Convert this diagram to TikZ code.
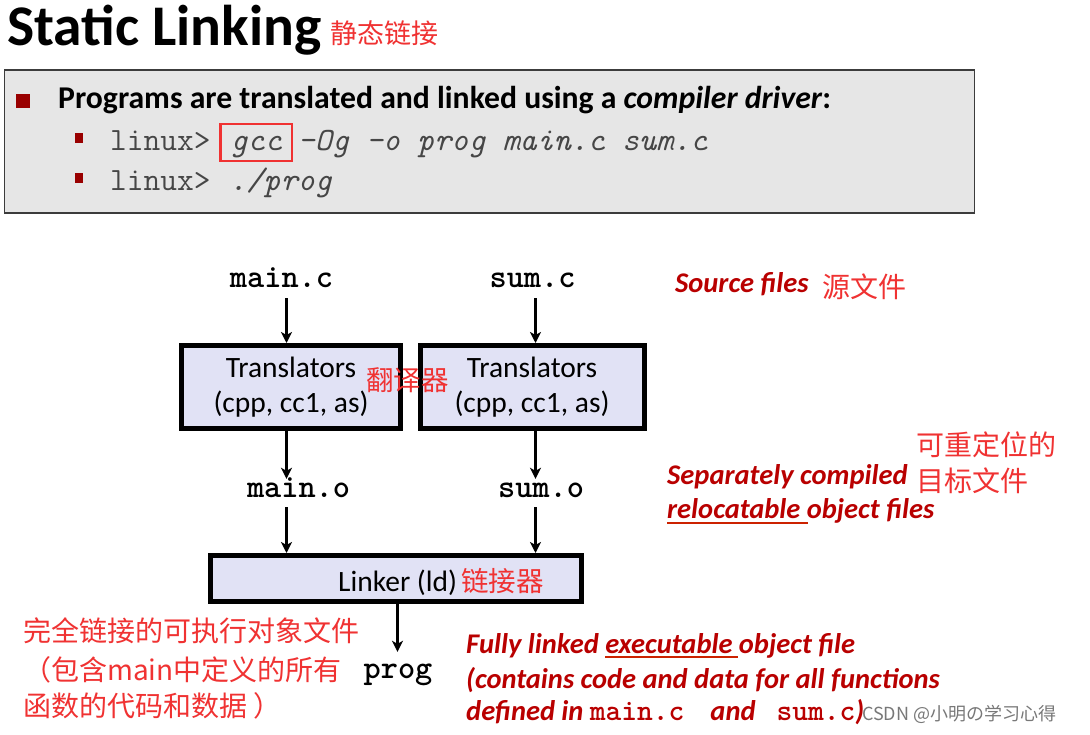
\documentclass[tikz,border=0pt]{standalone}
\usepackage{fontspec}
\setmainfont{Carlito}
\newfontfamily\cjk{Noto Sans CJK SC}
\usetikzlibrary{arrows.meta}
\definecolor{cnred}{RGB}{240,50,50}
\definecolor{enred}{RGB}{185,0,0}
\definecolor{bulletred}{RGB}{153,0,0}
\definecolor{boxfill}{RGB}{225,226,245}
\definecolor{panelfill}{RGB}{230,230,230}
\definecolor{panelline}{RGB}{60,60,60}
\definecolor{codegray}{RGB}{70,70,70}
\definecolor{ulred}{RGB}{204,34,0}
\definecolor{wmgray}{RGB}{120,120,120}
\tikzset{
  cn/.style={anchor=base west, inner sep=0pt, text=cnred, font=\cjk\fontsize{28}{33}\selectfont},
  en/.style={anchor=base west, inner sep=0pt, text=enred, font=\bfseries\itshape\fontsize{28.5}{32}\selectfont},
  file/.style={anchor=base, inner sep=0pt, text height=14pt, text depth=0pt, font=\ttfamily\bfseries\fontsize{32.7}{36}\selectfont},
  code/.style={anchor=base west, inner sep=0pt, text=codegray, font=\ttfamily\fontsize{32.5}{36}\selectfont},
  tbox/.style={draw=black, line width=5pt, fill=boxfill, align=center, inner sep=0pt, font=\fontsize{29.5}{35}\selectfont},
  arr/.style={line width=3pt, -{Stealth[length=11pt,width=11pt,inset=3pt]}},
  sqbullet/.style={fill=bulletred, draw=none, inner sep=0pt},
}
\newcommand{\monobf}[1]{{\ttfamily\bfseries\upshape\fontsize{30}{32}\selectfont #1}}
\begin{document}
\begin{tikzpicture}[x=1pt,y=-1pt]
\useasboundingbox (0,0) rectangle (1090,734);
\fill[white] (0,0) rectangle (1090,734);

% title
\node[anchor=base west, inner sep=0pt, font=\bfseries\fontsize{57.5}{60}\selectfont] (title) at (7,45) {Static Linking};
\node[cn, font=\cjk\fontsize{27}{32}\selectfont] (titlecn) at (330,43) {静态链接};

% gray panel
\node[draw=panelline, fill=panelfill, line width=1.5pt, minimum width=970pt, minimum height=143pt, inner sep=0pt] (panel) at (489.5,141.5) {};
\node[sqbullet, minimum width=14pt, minimum height=14pt] (b1) at (23,101) {};
\node[anchor=base west, inner sep=0pt, font=\bfseries\fontsize{31.7}{36}\selectfont] (line1) at (58,108) {Programs are translated and linked using a \textit{compiler driver}:};
\node[sqbullet, minimum width=8pt, minimum height=10pt] (b2) at (79,138) {};
\node[sqbullet, minimum width=8pt, minimum height=10pt] (b3) at (79,178) {};
\node[code] (l2a) at (110,150) {linux>};
\node[code, font=\ttfamily\itshape\fontsize{32.5}{36}\selectfont, draw=cnred, line width=2.5pt, inner xsep=10pt, inner ysep=6pt, text height=20pt, text depth=5pt] (gcc) at (219.4,150) {gcc};
\node[code, font=\ttfamily\itshape\fontsize{32.5}{36}\selectfont] (l2c) at (297.7,150) {-Og -o prog main.c sum.c};
\node[code] (l3a) at (110,190) {linux>};
\node[code, font=\ttfamily\itshape\fontsize{32.5}{36}\selectfont] (l3b) at (229.4,190) {./prog};

% diagram
\coordinate (colA) at (286.5,0);
\coordinate (colB) at (535.5,0);
\coordinate (colC) at (397.5,0);

\node[file] (mainc) at (281.5,287) {main.c};
\node[file] (sumc) at (532.5,287) {sum.c};
\node[tbox, minimum width=219pt, minimum height=83pt] (box1) at (291,387) {Translators\\(cpp, cc1, as)};
\node[tbox, minimum width=224pt, minimum height=83pt] (box2) at (532,387) {Translators\\(cpp, cc1, as)};
\node[cn, font=\cjk\fontsize{27.5}{32}\selectfont] (trcn) at (366,390) {翻译器};
\node[file] (maino) at (298.5,497) {main.o};
\node[file] (sumo) at (541,497) {sum.o};
\node[tbox, minimum width=371pt, minimum height=46pt] (linker) at (396,578.5) {};
\node[anchor=base west, inner sep=0pt, font=\fontsize{29.5}{32}\selectfont] (linktext) at (338,591) {Linker (ld)};
\node[cn, font=\cjk\fontsize{27.5}{32}\selectfont] (linkcn) at (461,591) {链接器};
\node[file] (prog) at (398,678) {prog};

\draw[arr, shorten <=11pt] (mainc.south -| colA) -- (box1.north -| colA);
\draw[arr, shorten <=11pt] (sumc.south -| colB) -- (box2.north -| colB);
\draw[arr, shorten >=4pt] (box1.south -| colA) -- (maino.north -| colA);
\draw[arr, shorten >=4pt] (box2.south -| colB) -- (sumo.north -| colB);
\draw[arr, shorten <=10pt] (maino.south -| colA) -- (linker.north -| colA);
\draw[arr, shorten <=10pt] (sumo.south -| colB) -- (linker.north -| colB);
\draw[arr, shorten >=12pt] (linker.south -| colC) -- (prog.north -| colC);

% annotations right
\node[en] (src) at (675,292) {Source files};
\node[cn] (srccn) at (822,297) {源文件};
\node[cn] (relcn1) at (916,455) {可重定位的};
\node[cn] (relcn2) at (916,491) {目标文件};
\node[en] (sep1) at (667,484) {Separately compiled};
\node[en] (sep2) at (667,518) {relocatable object files};
\draw[ulred, line width=2pt] (sep2.base west) ++(0,5) -- ++(141,0);

% annotations bottom
\node[cn] (ex1) at (23,641) {完全链接的可执行对象文件};
\node[cn] (ex2) at (23,680) {（包含main中定义的所有};
\node[cn] (ex3) at (23,716) {函数的代码和数据\hspace{6pt}）};
\node[en] (fl1) at (466,653) {Fully linked executable object file};
\draw[ulred, line width=2pt] (fl1.base west) ++(139,4) -- ++(133,0);
\node[en] (fl2) at (466,688) {(contains code and data for all functions};
\node[en] (fl3) at (466,720) {defined in \monobf{main.c}\hspace{26pt}and\hspace{21pt}\monobf{sum.c})};

\node[anchor=base west, inner sep=0pt, text=wmgray, font=\cjk\fontsize{18}{20}\selectfont] (wm) at (862,720) {CSDN @小明の学习心得};
\end{tikzpicture}
\end{document}
